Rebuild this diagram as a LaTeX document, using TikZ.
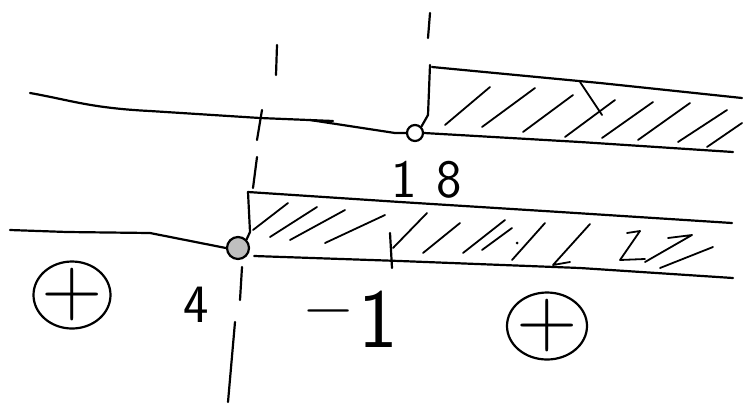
\documentclass[tikz,border=0pt]{standalone}
\usepackage{fontspec}
\usepackage{tikz}
\usetikzlibrary{shapes.geometric}
\setsansfont{Latin Modern Sans}
\tikzset{
  pen/.style={line width=2.2pt, line cap=round, line join=round, black},
  thinpen/.style={line width=1.8pt, line cap=round, line join=round, black},
  dot/.style={circle, draw, line width=2.2pt, inner sep=0pt},
  lbl/.style={font=\sffamily\fontsize{54}{58}\selectfont, inner sep=0pt},
  sign/.style={ellipse, draw, line width=2.2pt, inner sep=0pt, minimum width=77pt, minimum height=67pt,
    label={[font=\sffamily\fontsize{84}{88}\selectfont, inner sep=0pt]center:+}}
}
\begin{document}
\begin{tikzpicture}[x=1pt,y=-1pt]
\useasboundingbox (0,0) rectangle (743,405);
\fill[white] (0,0) rectangle (743,405);

% ---------- upper number line (x > 18) ----------
\node[dot, minimum size=16pt] (o18) at (415,133) {};
\coordinate (t1) at (30,93);
\draw[pen] (t1) .. controls (70,100) and (90,108) .. (150,111) -- (260,118) -- (333,121);
\draw[pen] (310,120) -- (395,133) -- (o18.west);
% vertical marker at 18
\coordinate (v18a) at (430,13);
\coordinate (v18b) at (428,38);
\draw[pen] (v18a) -- (v18b);
\coordinate (u1) at (430,65);
\draw[pen] (u1) -- (428,115) -- (o18.north east);
% shaded band
\coordinate (ue) at (742,98);
\coordinate (le) at (733,152);
\draw[pen] (432,67) -- (600,83) -- (ue);
\draw[pen] (o18.east) -- (580,142) -- (le);
% hatching
\foreach \a/\b/\c/\d in {445/125/490/87, 482/127/535/88, 523/132/573/95, 565/137/615/100,
                         602/138/653/102, 638/140/690/103, 678/142/727/110, 707/147/742/123}
  \draw[thinpen] (\a,\b) -- (\c,\d);
\draw[thinpen] (580,82) -- (602,115);
\node[lbl, anchor=base] (l18) at (427,197) {1\hspace{20pt}8};

% ---------- dashed vertical line at 4 ----------
\draw[pen] (277,45) -- (276,75);
\draw[pen] (262,110) -- (257,140);
\draw[pen] (257,157) -- (253,188);
\draw[pen] (242,267) -- (240,300);
\draw[pen] (235,322) -- (228,402);

% ---------- lower number line (x >= 4) ----------
\node[dot, minimum size=22pt, fill=black!25] (c4) at (238,248) {};
\draw[pen] (10,230) -- (67,232) -- (150,233) -- (c4.west);
\draw[pen] (248,192) -- (250,232) -- (c4.north east);
\coordinate (le2) at (732,223);
\coordinate (lb2) at (733,278);
\draw[pen] (248,192) -- (400,202) -- (560,212) -- (le2);
\draw[pen] (c4.east) ++(4,8) -- (400,261) -- (580,268) -- (lb2);
% tick at -1
\draw[pen] (390,233) -- (392,268);
% hatching
\foreach \a/\b/\c/\d in {253/230/288/203, 270/237/317/207, 290/240/345/210, 325/243/385/215,
                         393/248/427/213, 423/253/460/223, 463/253/505/220,
                         482/250/512/228, 512/260/545/223, 660/268/713/247}
  \draw[thinpen] (\a,\b) -- (\c,\d);
\draw[thinpen] (590,224) -- (553,265) -- (570,262);
\draw[thinpen] (627,233) -- (640,231) -- (620,260) -- (645,259);
\draw[thinpen] (668,238) -- (692,235) -- (645,262);
\fill (517,243) circle (1.5pt);

% ---------- labels ----------
\node[sign] (p1) at (72,295) {};
\node[sign, minimum width=80pt] (p2) at (547,326) {};
\node[lbl, anchor=base] (l4) at (196,322) {4};
\node[font=\sffamily, inner sep=0pt, anchor=base] (lm1) at (351,347)
  {{\fontsize{66}{70}\selectfont\raisebox{20pt}{−}}\hspace{6pt}{\fontsize{84}{88}\selectfont 1}};
\end{tikzpicture}
\end{document}
